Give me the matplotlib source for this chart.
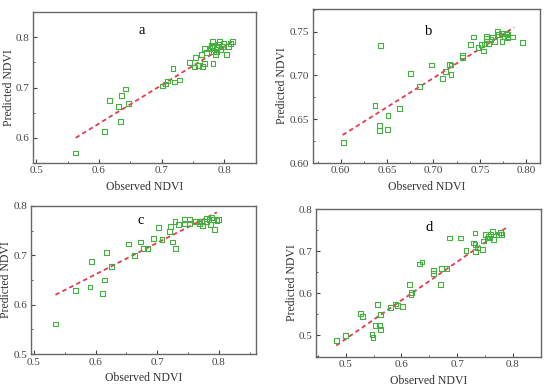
import matplotlib
matplotlib.use("Agg")
import matplotlib.pyplot as plt
from matplotlib.ticker import MultipleLocator, FormatStrFormatter

plt.rcParams['font.family'] = ['Liberation Serif', 'DejaVu Serif']

# panel a
a_obs = [0.563, 0.609, 0.617, 0.631, 0.636, 0.643, 0.635, 0.647, 0.702, 0.706,
         0.709, 0.718, 0.720, 0.729, 0.744, 0.753, 0.754, 0.759, 0.765, 0.764,
         0.768, 0.768, 0.772, 0.777, 0.781, 0.781, 0.783, 0.782, 0.786, 0.788,
         0.791, 0.792, 0.794, 0.797, 0.799, 0.803, 0.807, 0.810, 0.813, 0.787, 0.779]
a_pred = [0.570, 0.613, 0.674, 0.663, 0.685, 0.697, 0.632, 0.669, 0.703, 0.707,
          0.713, 0.738, 0.711, 0.715, 0.750, 0.741, 0.759, 0.744, 0.742, 0.766,
          0.748, 0.777, 0.769, 0.777, 0.792, 0.779, 0.772, 0.748, 0.766, 0.779,
          0.785, 0.792, 0.775, 0.782, 0.788, 0.765, 0.781, 0.788, 0.792, 0.771, 0.784]
a_fit_x = [0.563, 0.815]
a_fit_y = [0.600, 0.793]

# panel b
b_obs = [0.603, 0.643, 0.637, 0.642, 0.642, 0.651, 0.650, 0.663, 0.675, 0.685,
         0.698, 0.710, 0.713, 0.717, 0.719, 0.719, 0.731, 0.731, 0.740, 0.743,
         0.748, 0.752, 0.754, 0.755, 0.757, 0.757, 0.759, 0.762, 0.764, 0.766,
         0.769, 0.770, 0.773, 0.774, 0.776, 0.780, 0.779, 0.780, 0.785, 0.780, 0.796]
b_pred = [0.623, 0.734, 0.666, 0.643, 0.637, 0.654, 0.638, 0.662, 0.702, 0.687,
          0.712, 0.697, 0.705, 0.713, 0.712, 0.701, 0.723, 0.721, 0.735, 0.744,
          0.732, 0.735, 0.728, 0.736, 0.742, 0.745, 0.737, 0.741, 0.744, 0.739,
          0.750, 0.747, 0.748, 0.739, 0.744, 0.745, 0.748, 0.747, 0.744, 0.743, 0.738]
b_fit_x = [0.602, 0.787]
b_fit_y = [0.632, 0.755]

# panel c
c_obs = [0.535, 0.567, 0.591, 0.594, 0.611, 0.614, 0.618, 0.626, 0.653, 0.663,
         0.673, 0.678, 0.685, 0.694, 0.702, 0.708, 0.720, 0.722, 0.725, 0.730,
         0.729, 0.734, 0.744, 0.745, 0.753, 0.752, 0.762, 0.772, 0.774, 0.769,
         0.780, 0.784, 0.786, 0.789, 0.793, 0.797, 0.800, 0.792, 0.780, 0.768]
c_pred = [0.561, 0.628, 0.636, 0.687, 0.623, 0.650, 0.706, 0.677, 0.723, 0.700,
          0.727, 0.714, 0.714, 0.734, 0.756, 0.732, 0.748, 0.758, 0.727, 0.713,
          0.768, 0.762, 0.773, 0.764, 0.773, 0.765, 0.768, 0.769, 0.761, 0.764,
          0.774, 0.773, 0.762, 0.776, 0.752, 0.770, 0.773, 0.773, 0.769, 0.769]
c_fit_x = [0.535, 0.797]
c_fit_y = [0.620, 0.787]

# panel d
d_obs = [0.483, 0.499, 0.527, 0.530, 0.547, 0.549, 0.554, 0.557, 0.561, 0.563,
         0.563, 0.581, 0.590, 0.593, 0.602, 0.615, 0.617, 0.618, 0.633, 0.637,
         0.657, 0.658, 0.670, 0.672, 0.681, 0.687, 0.706, 0.716, 0.732, 0.730,
         0.732, 0.733, 0.737, 0.745, 0.748, 0.751, 0.754, 0.757, 0.760, 0.763,
         0.766, 0.774, 0.778, 0.780, 0.758]
d_pred = [0.487, 0.498, 0.551, 0.544, 0.502, 0.494, 0.522, 0.572, 0.522, 0.514,
          0.548, 0.565, 0.574, 0.570, 0.568, 0.621, 0.597, 0.601, 0.669, 0.674,
          0.653, 0.647, 0.621, 0.658, 0.658, 0.731, 0.731, 0.701, 0.743, 0.719,
          0.715, 0.699, 0.707, 0.703, 0.724, 0.740, 0.731, 0.735, 0.739, 0.747,
          0.728, 0.740, 0.745, 0.739, 0.731]
d_fit_x = [0.483, 0.790]
d_fit_y = [0.475, 0.757]

panels = [
    ("a", a_obs, a_pred, a_fit_x, a_fit_y, [0.060, 0.582, 0.405, 0.387],
     (0.495, 0.85), (0.55, 0.85), 0.1, "%.1f", (0.669, 0.813), -0.083),
    ("b", b_obs, b_pred, b_fit_x, b_fit_y, [0.569, 0.582, 0.413, 0.395],
     (0.57, 0.815), (0.60, 0.776), 0.05, "%.2f", (0.695, 0.750), -0.108),
    ("c", c_obs, c_pred, c_fit_x, c_fit_y, [0.056, 0.092, 0.409, 0.380],
     (0.495, 0.86), (0.50, 0.80), 0.1, "%.1f", (0.674, 0.771), -0.082),
    ("d", d_obs, d_pred, d_fit_x, d_fit_y, [0.575, 0.085, 0.409, 0.379],
     (0.447, 0.851), (0.448, 0.80), 0.1, "%.1f", (0.649, 0.755), -0.082),
]

fig = plt.figure(figsize=(5.5, 3.9), dpi=100)
for name, xs, ys, fx, fy, pos, xl, yl, step, fmt, lab, ylab_x in panels:
    ax = fig.add_axes(pos)
    ax.scatter(xs, ys, marker="s", s=12, facecolors="none",
               edgecolors="#45b040", linewidths=0.8, zorder=3)
    ax.plot(fx, fy, color="#e23c4e", linestyle=(0, (2.5, 1.8)), linewidth=1.3, zorder=2)
    ax.set_xlim(*xl)
    ax.set_ylim(*yl)
    ax.xaxis.set_major_locator(MultipleLocator(step))
    ax.yaxis.set_major_locator(MultipleLocator(step))
    ax.xaxis.set_minor_locator(MultipleLocator(step / 2))
    ax.yaxis.set_minor_locator(MultipleLocator(step / 2))
    ax.xaxis.set_major_formatter(FormatStrFormatter(fmt))
    ax.yaxis.set_major_formatter(FormatStrFormatter(fmt))
    ax.tick_params(which="both", direction="in", labelsize=8, colors="#444444")
    ax.tick_params(which="major", length=3, pad=2.5)
    ax.tick_params(which="minor", length=1.5)
    for sp in ax.spines.values():
        sp.set_color("#666666")
        sp.set_linewidth(1.0)
    ax.set_xlabel("Observed NDVI", fontsize=8.5, color="#333333", labelpad=4)
    ax.set_ylabel("Predicted NDVI", fontsize=8.5, color="#333333")
    ax.yaxis.set_label_coords(ylab_x, 0.5)
    ax.text(lab[0], lab[1], name, fontsize=10.5, ha="center", va="center")

fig.savefig("out.png", dpi=100)
